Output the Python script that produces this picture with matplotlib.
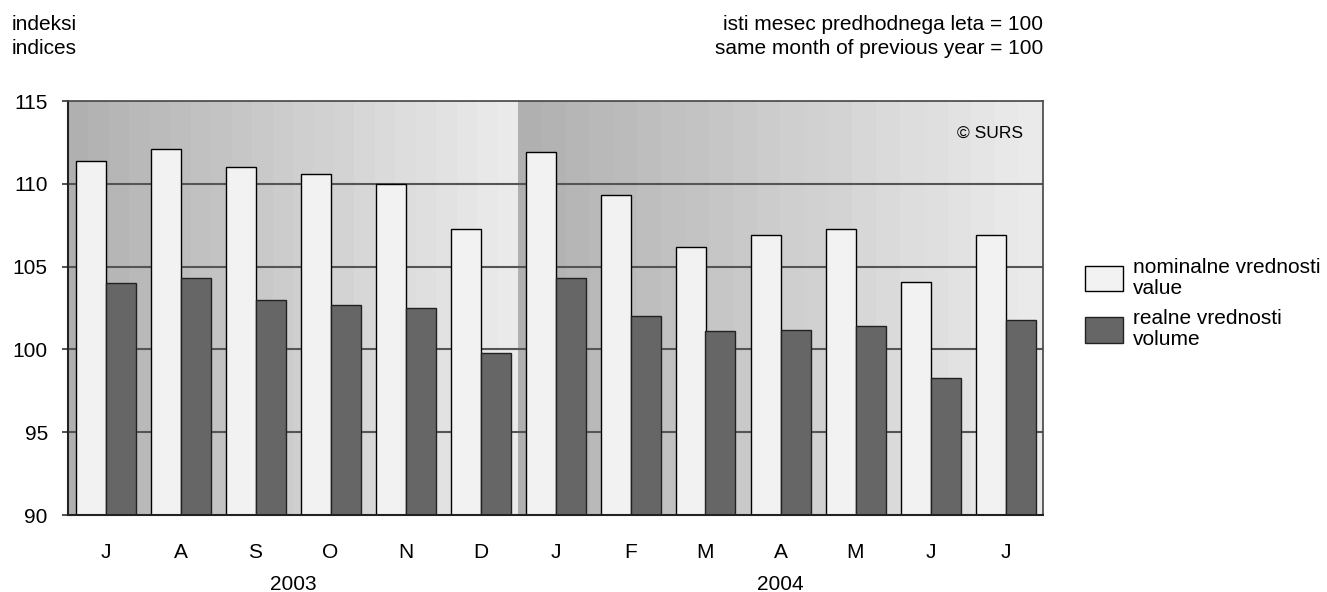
import matplotlib
matplotlib.use('Agg')
import matplotlib.pyplot as plt
import numpy as np

plt.rcParams['font.family'] = ['Liberation Sans', 'DejaVu Sans']

months = ['J', 'A', 'S', 'O', 'N', 'D', 'J', 'F', 'M', 'A', 'M', 'J', 'J']
years = ['2003', '2004']
year_len = [6, 7]
nominal = [111.4, 112.1, 111.0, 110.6, 110.0, 107.3, 111.9, 109.3, 106.2, 106.9, 107.3, 104.1, 106.9]
real = [104.0, 104.3, 103.0, 102.7, 102.5, 99.8, 104.3, 102.0, 101.1, 101.2, 101.4, 98.3, 101.8]

W, H = 1327, 592
fs = 15

fig = plt.figure(figsize=(W/100, H/100), dpi=100)
ax = fig.add_axes([68/W, 77/H, 975/W, 414/H])

x = np.arange(len(months))
ymin, ymax = 90, 115

# stepped grey gradient per year section
start = -0.5
for n in year_len:
    steps = 22
    grad = np.linspace(176, 234, steps).reshape(1, -1) / 255.0
    ax.imshow(grad, cmap='gray', vmin=0, vmax=1, aspect='auto',
              extent=[start, start + n, ymin, ymax], zorder=0, interpolation='nearest')
    start += n

for yv in [95, 100, 105, 110]:
    ax.axhline(yv, color='#555555', lw=1.5, zorder=1)

w = 0.4
ax.bar(x - w/2, np.array(nominal) - ymin, w, bottom=ymin, color='#f2f2f2', edgecolor='black', lw=1,
       zorder=2, label='nominalne vrednosti\nvalue')
ax.bar(x + w/2, np.array(real) - ymin, w, bottom=ymin, color='#666666', edgecolor='#222222', lw=1,
       zorder=2, label='realne vrednosti\nvolume')

ax.set_xlim(-0.5, len(months) - 0.5)
ax.set_ylim(ymin, ymax)
ax.set_yticks([90, 95, 100, 105, 110, 115])
ax.set_xticks(x)
ax.set_xticklabels(months)
ax.tick_params(axis='x', length=0, pad=20, labelsize=fs)
ax.tick_params(axis='y', length=4.5, width=1.2, color='#333333', labelsize=fs, pad=10)
for s in ['top', 'right']:
    ax.spines[s].set_color('#444444')
    ax.spines[s].set_linewidth(1.2)
ax.spines['left'].set_color('#222222')
ax.spines['bottom'].set_color('#222222')
ax.spines['left'].set_linewidth(1.5)
ax.spines['bottom'].set_linewidth(1.5)
for s in ax.spines.values():
    s.set_zorder(3)

# year labels
start = -0.5
for yr, n in zip(years, year_len):
    ax.text(start + n/2, -0.168, yr, transform=ax.get_xaxis_transform(), ha='center', va='center', fontsize=fs)
    start += n

ax.text(0.9795, 0.922, '© SURS', transform=ax.transAxes, ha='right', va='center', fontsize=12.5)

fig.text(12/W, 1 - 25/H, 'indeksi', ha='left', va='center', fontsize=fs)
fig.text(12/W, 1 - 49/H, 'indices', ha='left', va='center', fontsize=fs)
fig.text(1043/W, 1 - 25/H, 'isti mesec predhodnega leta = 100', ha='right', va='center', fontsize=fs)
fig.text(1043/W, 1 - 49/H, 'same month of previous year = 100', ha='right', va='center', fontsize=fs)

fpx = fs * 100 / 72
leg = fig.legend(loc='upper left', bbox_to_anchor=(1085/W, 1 - 258/H), frameon=False, fontsize=fs,
                 handlelength=38/fpx, handleheight=32/fpx, labelspacing=0.55, handletextpad=10/fpx,
                 borderpad=0, borderaxespad=0)
for t in leg.get_texts():
    t.set_linespacing(1.12)

fig.savefig('out.png', dpi=100)
